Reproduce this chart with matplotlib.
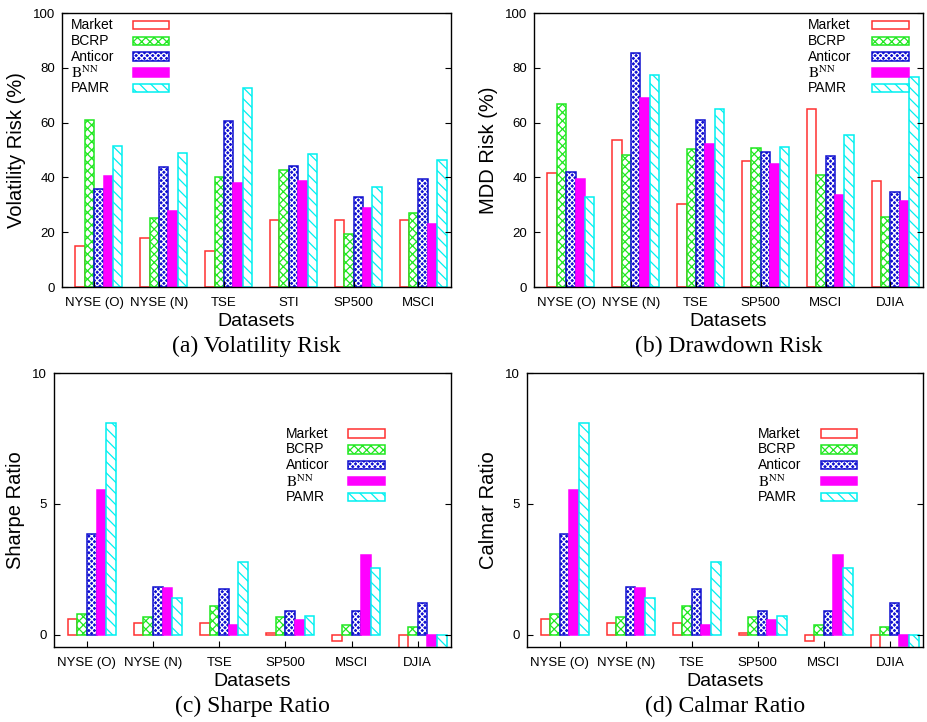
import numpy as np
import matplotlib
matplotlib.use('Agg')
import matplotlib.pyplot as plt
from matplotlib.patches import Rectangle

plt.rcParams['font.family'] = ['Liberation Sans', 'DejaVu Sans']
plt.rcParams['mathtext.fontset'] = 'stix'
plt.rcParams['hatch.linewidth'] = 0.9

# data
methods = ['Market', 'BCRP', 'Anticor', r'$\mathrm{B}^{\mathrm{NN}}$', 'PAMR']

vol_sets = ['NYSE (O)', 'NYSE (N)', 'TSE', 'STI', 'SP500', 'MSCI']
vol_market = [14.8, 18.0, 13.0, 24.3, 24.6, 24.3]
vol_bcrp = [60.8, 25.1, 40.0, 42.6, 19.5, 26.9]
vol_anticor = [35.9, 43.7, 60.5, 44.2, 33.0, 39.5]
vol_bnn = [40.5, 27.7, 38.0, 38.7, 28.7, 23.1]
vol_pamr = [51.3, 48.8, 72.6, 48.5, 36.5, 46.5]

mdd_sets = ['NYSE (O)', 'NYSE (N)', 'TSE', 'SP500', 'MSCI', 'DJIA']
mdd_market = [41.6, 53.5, 30.3, 46.0, 65.0, 38.6]
mdd_bcrp = [66.9, 48.2, 50.2, 50.9, 41.0, 25.4]
mdd_anticor = [41.8, 85.3, 61.0, 49.4, 47.8, 34.8]
mdd_bnn = [39.5, 69.0, 52.2, 45.0, 33.6, 31.3]
mdd_pamr = [33.0, 77.3, 65.1, 51.1, 55.5, 76.6]

ratio_sets = ['NYSE (O)', 'NYSE (N)', 'TSE', 'SP500', 'MSCI', 'DJIA']
sharpe_market = [0.61, 0.46, 0.47, 0.09, -0.25, -0.6]
sharpe_bcrp = [0.81, 0.67, 1.09, 0.69, 0.37, 0.29]
sharpe_anticor = [3.85, 1.82, 1.76, 0.90, 0.92, 1.21]
sharpe_bnn = [5.52, 1.79, 0.38, 0.57, 3.04, -0.43]
sharpe_pamr = [8.09, 1.41, 2.79, 0.73, 2.57, -0.5]

calmar_market = [0.61, 0.46, 0.47, 0.09, -0.25, -0.6]
calmar_bcrp = [0.81, 0.67, 1.09, 0.69, 0.37, 0.29]
calmar_anticor = [3.85, 1.82, 1.76, 0.90, 0.92, 1.21]
calmar_bnn = [5.52, 1.79, 0.38, 0.57, 3.04, -0.43]
calmar_pamr = [8.09, 1.41, 2.79, 0.73, 2.57, -0.5]

RED = '#ff3030'
GREEN = '#20e820'
BLUE = '#1010d0'
MAGENTA = '#ff00ff'
CYAN = '#00f0f0'

W = 0.145
W_FIG, H_FIG = 927, 722


def draw_bar(ax, x, h, k):
    if k == 0:
        ax.bar(x, h, W, color='white', edgecolor=RED, linewidth=1.1)
    elif k == 1:
        ax.bar(x, h, W, color='white', edgecolor=GREEN, hatch='xxxx', linewidth=1.1)
    elif k == 2:
        ax.bar(x, h, W, color=BLUE, edgecolor='white', hatch='xxxxxx', linewidth=0)
        ax.bar(x, h, W, fill=False, edgecolor=BLUE, linewidth=1.1)
    elif k == 3:
        ax.bar(x, h, W, color=MAGENTA, edgecolor=MAGENTA, linewidth=1.1)
    else:
        ax.bar(x, h, W, color='white', edgecolor=CYAN, hatch='\\\\\\', linewidth=1.1)


def legend_patch(ax, x0, x1, yc, k):
    hgt = 0.03
    kw = dict(transform=ax.transAxes, clip_on=False)
    xy = (x0, yc - hgt / 2)
    if k == 0:
        ax.add_patch(Rectangle(xy, x1 - x0, hgt, facecolor='white', edgecolor=RED, lw=1.1, **kw))
    elif k == 1:
        ax.add_patch(Rectangle(xy, x1 - x0, hgt, facecolor='white', edgecolor=GREEN, hatch='xxxx', lw=1.1, **kw))
    elif k == 2:
        ax.add_patch(Rectangle(xy, x1 - x0, hgt, facecolor=BLUE, edgecolor='white', hatch='xxxxxx', lw=0, **kw))
        ax.add_patch(Rectangle(xy, x1 - x0, hgt, fill=False, edgecolor=BLUE, lw=1.1, **kw))
    elif k == 3:
        ax.add_patch(Rectangle(xy, x1 - x0, hgt, facecolor=MAGENTA, edgecolor=MAGENTA, lw=1.1, **kw))
    else:
        ax.add_patch(Rectangle(xy, x1 - x0, hgt, facecolor='white', edgecolor=CYAN, hatch='\\\\\\', lw=1.1, **kw))


def panel(rect_px, sets, series, ylim, yticks, ylabel, caption, leg, ylab_x):
    l, r, t, b = rect_px
    ax = fig.add_axes([l / W_FIG, 1 - b / H_FIG, (r - l) / W_FIG, (b - t) / H_FIG])
    x = np.arange(len(sets))
    for k, vals in enumerate(series):
        draw_bar(ax, x + (k - 2) * W, vals, k)
    ax.set_xlim(-0.57, len(sets) - 1 + 0.43)
    ax.set_ylim(*ylim)
    ax.set_yticks(yticks)
    ax.set_xticks(x - W / 2)
    ax.set_xticklabels(sets)
    ax.tick_params(axis='y', direction='in', right=True, length=4, labelsize=9.5, pad=5)
    ax.tick_params(axis='x', direction='in', length=4, labelsize=9.5, pad=7)
    for s in ax.spines.values():
        s.set_linewidth(1.0)
    ax.set_ylabel(ylabel, fontsize=14.5, va='center')
    ax.yaxis.set_label_coords(ylab_x, 0.5)
    ax.set_xlabel('Datasets', fontsize=14, va='center')
    ax.xaxis.set_label_coords(0.5, -35 / (b - t))
    ax.text(0.5, -59 / (b - t), caption, transform=ax.transAxes, ha='center', va='center',
            fontsize=17, family='Liberation Serif')
    tx, p0, p1, ys = leg
    for k, name in enumerate(methods):
        yc = ys - k * 0.058
        fs = 11 if k == 3 else 10
        ax.text(tx, yc, name, transform=ax.transAxes, ha='left', va='center', fontsize=fs)
        legend_patch(ax, p0, p1, yc, k)
    return ax


fig = plt.figure(figsize=(9.27, 7.22), dpi=100)

panel((62, 451, 13, 287), vol_sets, [vol_market, vol_bcrp, vol_anticor, vol_bnn, vol_pamr],
      (0, 100), [0, 20, 40, 60, 80, 100], 'Volatility Risk (%)', '(a) Volatility Risk',
      (0.022, 0.183, 0.276, 0.957), -0.116)
panel((534, 923, 13, 287), mdd_sets, [mdd_market, mdd_bcrp, mdd_anticor, mdd_bnn, mdd_pamr],
      (0, 100), [0, 20, 40, 60, 80, 100], 'MDD Risk (%)', '(b) Drawdown Risk',
      (0.705, 0.870, 0.963, 0.957), -0.116)
panel((54, 451, 373, 647), ratio_sets, [sharpe_market, sharpe_bcrp, sharpe_anticor, sharpe_bnn, sharpe_pamr],
      (-0.46, 10), [0, 5, 10], 'Sharpe Ratio', '(c) Sharpe Ratio',
      (0.584, 0.741, 0.834, 0.779), -0.096)
panel((527, 923, 373, 647), ratio_sets, [calmar_market, calmar_bcrp, calmar_anticor, calmar_bnn, calmar_pamr],
      (-0.46, 10), [0, 5, 10], 'Calmar Ratio', '(d) Calmar Ratio',
      (0.583, 0.742, 0.834, 0.779), -0.098)

fig.savefig('out.png', dpi=100)
